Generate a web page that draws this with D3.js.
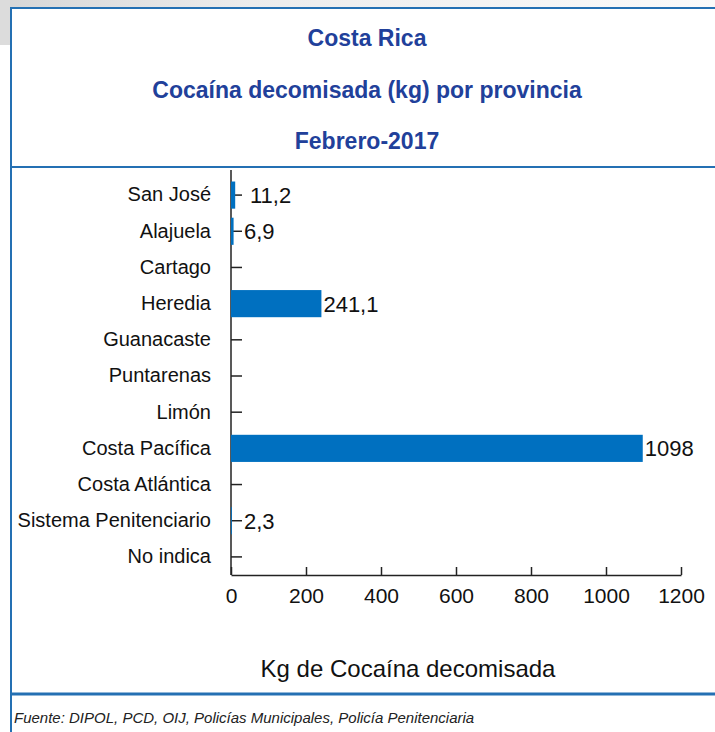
<!DOCTYPE html>
<html>
<head>
<meta charset="utf-8">
<script src="https://cdn.jsdelivr.net/npm/d3@7"></script>
<style>
  body { margin: 0; background: #fff; }
  svg { display: block; }
</style>
</head>
<body>
<svg id="chart" width="715" height="732"></svg>
<script>
// Data
const provincias = ['San José', 'Alajuela', 'Cartago', 'Heredia', 'Guanacaste', 'Puntarenas',
  'Limón', 'Costa Pacífica', 'Costa Atlántica', 'Sistema Penitenciario', 'No indica'];
const kilos = [11.2, 6.9, 0, 241.1, 0, 0, 0, 1098, 0, 2.3, 0];
const xTicks = [0, 200, 400, 600, 800, 1000, 1200];
const titleLines = ['Costa Rica', 'Cocaína decomisada (kg) por provincia', 'Febrero-2017'];
const xTitle = 'Kg de Cocaína decomisada';
const fuente = 'Fuente: DIPOL, PCD, OIJ, Policías Municipales, Policía Penitenciaria';

const FONT = '"Liberation Sans", Arial, sans-serif';
const BAR_COLOR = '#0070c0';
const FRAME_COLOR = '#2470b3';
const TITLE_COLOR = '#21409a';

const svg = d3.select('#chart');
const data = provincias.map((p, i) => ({ provincia: p, kg: kilos[i] }));

// faded background strip above the frame
const grad = svg.append('defs').append('linearGradient').attr('id', 'bg').attr('x1', 0).attr('x2', 1);
grad.append('stop').attr('offset', 0).attr('stop-color', '#d6d6d6');
grad.append('stop').attr('offset', 0.35).attr('stop-color', '#ececec');
grad.append('stop').attr('offset', 1).attr('stop-color', '#fafafa');
svg.append('rect').attr('x', 0).attr('y', 0).attr('width', 715).attr('height', 8).attr('fill', 'url(#bg)');
svg.append('rect').attr('x', 0).attr('y', 0).attr('width', 10).attr('height', 45).attr('fill', '#dcdcdc');

// frame
const frame = svg.append('g').attr('stroke', FRAME_COLOR).attr('fill', 'none');
frame.append('rect').attr('x', 11).attr('y', 8).attr('width', 740).attr('height', 760).attr('fill', '#fff').attr('stroke-width', 2);
frame.append('line').attr('x1', 11).attr('x2', 715).attr('y1', 167).attr('y2', 167).attr('stroke-width', 2);
frame.append('line').attr('x1', 11).attr('x2', 715).attr('y1', 694).attr('y2', 694).attr('stroke-width', 3);

// title
svg.append('g').selectAll('text')
  .data(titleLines)
  .enter()
  .append('text')
  .attr('x', 367)
  .attr('y', (d, i) => 46 + i * 51.5)
  .attr('text-anchor', 'middle')
  .style('font-family', FONT)
  .style('font-weight', 'bold')
  .style('font-size', '23px')
  .style('fill', TITLE_COLOR)
  .text(d => d);

// scales
const x = d3.scaleLinear().domain([0, 1200]).range([231, 681]);
const y = d3.scaleBand().domain(provincias).range([177, 575]).paddingInner(0.25).paddingOuter(0.125);

// y axis, ticks pointing into the plot
const yAxis = svg.append('g')
  .attr('transform', `translate(${x(0)},0)`)
  .call(d3.axisLeft(y).tickSizeInner(-11).tickSizeOuter(0).tickPadding(20));
yAxis.select('.domain').attr('d', `M0,170V575`);

// x axis, ticks pointing up
const xAxis = svg.append('g')
  .attr('transform', 'translate(0,575)')
  .call(d3.axisBottom(x).tickValues(xTicks).tickFormat(d3.format('d'))
    .tickSizeInner(-8).tickSizeOuter(0).tickPadding(13));

[yAxis, xAxis].forEach(ax => {
  ax.selectAll('.domain, .tick line').attr('stroke', '#222').attr('stroke-width', 1.5);
  ax.selectAll('text').style('font-family', FONT).style('fill', '#111');
});
yAxis.selectAll('text').style('font-size', '20px');
xAxis.selectAll('text').style('font-size', '21px');

// bars
svg.append('g').selectAll('rect')
  .data(data.filter(d => d.kg > 0))
  .enter()
  .append('rect')
  .attr('x', x(0))
  .attr('y', d => y(d.provincia))
  .attr('width', d => x(d.kg) - x(0))
  .attr('height', y.bandwidth())
  .attr('fill', BAR_COLOR);

// value labels
const fmt = v => (Number.isInteger(v) ? String(v) : v.toFixed(1).replace('.', ','));
svg.append('g').selectAll('text')
  .data(data.filter(d => d.kg > 0))
  .enter()
  .append('text')
  .attr('x', d => Math.max(x(d.kg), x(0) + 11) + (d.kg > 10 && d.kg < 100 ? 8 : 2))
  .attr('y', d => y(d.provincia) + y.bandwidth() / 2)
  .attr('dy', '0.36em')
  .style('font-family', FONT)
  .style('font-size', '22px')
  .style('fill', '#111')
  .text(d => fmt(d.kg));

// axis title
svg.append('text')
  .attr('x', 408)
  .attr('y', 677)
  .attr('text-anchor', 'middle')
  .style('font-family', FONT)
  .style('font-size', '24px')
  .style('fill', '#111')
  .text(xTitle);

// source note
svg.append('text')
  .attr('x', 14)
  .attr('y', 723)
  .style('font-family', FONT)
  .style('font-size', '15px')
  .style('font-style', 'italic')
  .style('fill', '#222')
  .text(fuente);
</script>
</body>
</html>
